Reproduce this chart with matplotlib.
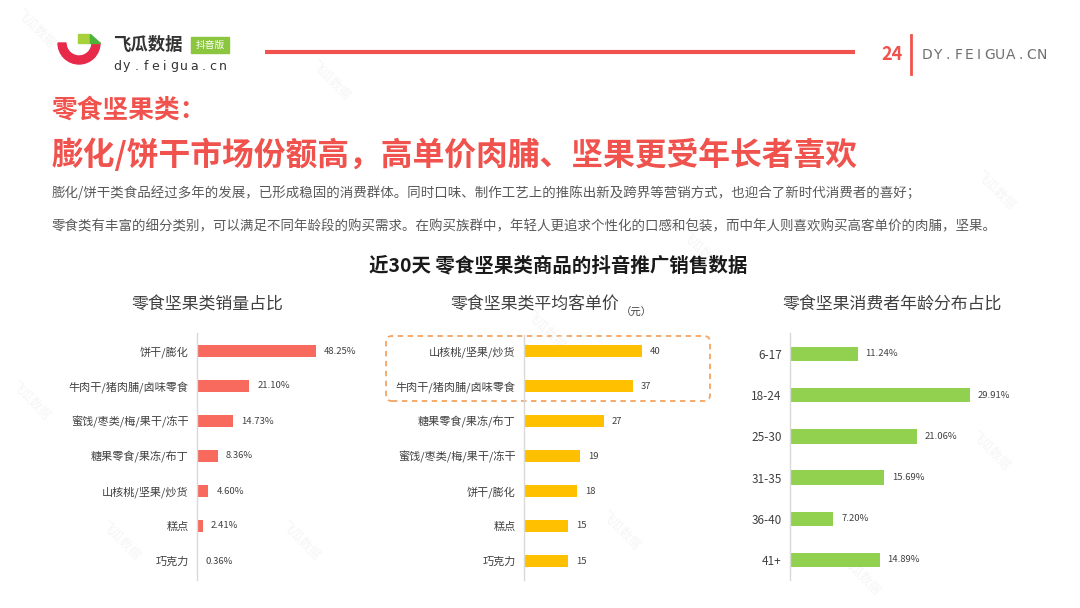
import matplotlib
matplotlib.use("Agg")
import matplotlib.pyplot as plt
from matplotlib.patches import Wedge, Rectangle, FancyBboxPatch, Polygon

plt.rcParams['font.family'] = ['Noto Sans CJK SC', 'DejaVu Sans']

# ---- data ----
sales_cats = ["饼干/膨化", "牛肉干/猪肉脯/卤味零食", "蜜饯/枣类/梅/果干/冻干",
              "糖果零食/果冻/布丁", "山核桃/坚果/炒货", "糕点", "巧克力"]
sales_share = [48.25, 21.10, 14.73, 8.36, 4.60, 2.41, 0.36]

price_cats = ["山核桃/坚果/炒货", "牛肉干/猪肉脯/卤味零食", "糖果零食/果冻/布丁",
              "蜜饯/枣类/梅/果干/冻干", "饼干/膨化", "糕点", "巧克力"]
price_vals = [40, 37, 27, 19, 18, 15, 15]

age_groups = ["6-17", "18-24", "25-30", "31-35", "36-40", "41+"]
age_share = [11.24, 29.91, 21.06, 15.69, 7.20, 14.89]

W, H = 1080, 608
fig = plt.figure(figsize=(10.8, 6.08), dpi=100)
fig.patch.set_facecolor("white")

def fx(px):
    return px / W

def fy(py):
    return 1 - py / H

RED = "#F0524D"
GRAY = "#404040"

# ---- background decorations (pixel coords, y up) ----
bg = fig.add_axes([0, 0, 1, 1], zorder=0)
bg.set_xlim(0, W)
bg.set_ylim(0, H)
bg.axis("off")

# faint watermarks
for (wx, wy) in [(35, 28), (330, 80), (120, 540), (545, 330), (700, 250), (995, 190),
                 (990, 450), (620, 530), (300, 540), (860, 575), (30, 400)]:
    bg.text(wx, H - wy, "飞瓜数据", rotation=-45, color="#F5F5F5", fontsize=9,
            ha="center", va="center")

# logo icon
cx, cy = 79, H - 43
bg.add_patch(Wedge((cx, cy), 21, 180, 360, width=8, color="#E8294A"))
bg.add_patch(Rectangle((78, H - 43), 12, 9, color="#A6D13A"))
bg.add_patch(Polygon([(90, H - 34), (90, H - 43), (100, H - 43)], color="#4FB23A"))
fig.text(fx(113), fy(45), "飞瓜数据", fontsize=12.5, fontweight="bold",
         color="#333333", va="center", ha="left")
bg.add_patch(Rectangle((191, H - 53), 38, 16, color="#8CC63F"))
fig.text(fx(210), fy(45), "抖音版", fontsize=7, color="white", va="center", ha="center")
for i, ch in enumerate("dy.feigua.cn"):
    fig.text(fx(117 + i * 9.6), fy(66), ch, fontsize=9, color="#333333",
             va="center", ha="center", family="DejaVu Sans")

# top line and page number
bg.plot([265, 855], [H - 52, H - 52], color=RED, lw=3, solid_capstyle="butt")
fig.text(fx(892), fy(55), "24", fontsize=13, fontweight="bold", color=RED,
         va="center", ha="center")
bg.plot([911, 911], [H - 35, H - 74], color=RED, lw=2)
for i, ch in enumerate("DY.FEIGUA.CN"):
    fig.text(fx(927 + i * 10.4), fy(55), ch, fontsize=10, color="#6E6E6E",
             va="center", ha="center", family="DejaVu Sans")

# headline
fig.text(fx(52), fy(110), "零食坚果类：", fontsize=18.5, fontweight="bold",
         color=RED, va="center", ha="left")
fig.text(fx(52), fy(155), "膨化/饼干市场份额高，高单价肉脯、坚果更受年长者喜欢",
         fontsize=22.9, fontweight="bold", color=RED, va="center", ha="left")
fig.text(fx(52), fy(193),
         "膨化/饼干类食品经过多年的发展，已形成稳固的消费群体。同时口味、制作工艺上的推陈出新及跨界等营销方式，也迎合了新时代消费者的喜好；",
         fontsize=9.7, color="#595959", va="center", ha="left")
fig.text(fx(52), fy(226),
         "零食类有丰富的细分类别，可以满足不同年龄段的购买需求。在购买族群中，年轻人更追求个性化的口感和包装，而中年人则喜欢购买高客单价的肉脯，坚果。",
         fontsize=9.7, color="#595959", va="center", ha="left")

fig.text(fx(558), fy(266), "近30天 零食坚果类商品的抖音推广销售数据", fontsize=14,
         fontweight="bold", color="#1A1A1A", va="center", ha="center")

# sub titles
fig.text(fx(207), fy(305), "零食坚果类销量占比", fontsize=12.2, color=GRAY,
         va="center", ha="center")
fig.text(fx(535), fy(305), "零食坚果类平均客单价", fontsize=12.2, color=GRAY,
         va="center", ha="center")
fig.text(fx(636), fy(313), "（元）", fontsize=7.5, color=GRAY, va="center", ha="center")
fig.text(fx(892), fy(305), "零食坚果消费者年龄分布占比", fontsize=12.2, color=GRAY,
         va="center", ha="center")

# dashed highlight box
bg.add_patch(FancyBboxPatch((386, H - 401), 324, 65,
                            boxstyle="round,pad=0,rounding_size=6",
                            fill=False, ec="#F4A460", lw=1.3, ls=(0, (3, 2.5))))


def bar_panel(left, top_row, step, axis_top, axis_bot, scale, cats, vals,
              color, fmt, bar_h, tick_fs):
    n = len(cats)
    width_px = 200
    ax = fig.add_axes([fx(left), fy(axis_bot), width_px / W, (axis_bot - axis_top) / H],
                      zorder=2)
    ax.patch.set_alpha(0)
    ypos = list(range(n))
    ax.barh(ypos, vals, height=bar_h, color=color)
    y_top = -(top_row - axis_top) / step
    y_bot = (n - 1) + (axis_bot - (top_row + step * (n - 1))) / step
    ax.set_ylim(y_bot, y_top)
    ax.set_xlim(0, width_px / scale)
    for s in ["top", "right", "bottom"]:
        ax.spines[s].set_visible(False)
    ax.spines["left"].set_color("#D9D9D9")
    ax.spines["left"].set_linewidth(1)
    ax.set_xticks([])
    ax.set_yticks(ypos)
    ax.set_yticklabels(cats, fontsize=tick_fs, color=GRAY)
    ax.tick_params(axis="y", length=0, pad=6)
    for y, v in zip(ypos, vals):
        ax.text(v + 8 / scale, y, fmt(v), fontsize=6.8, color=GRAY,
                va="center", ha="left")
    return ax


bar_panel(197, 351, 35, 333, 580, 2.47, sales_cats, sales_share, "#F8695E",
          lambda v: f"{v:.2f}%", 0.37, 8)
bar_panel(524, 351, 35, 335, 580, 2.95, price_cats, price_vals, "#FFC000",
          lambda v: f"{v}", 0.37, 8)
bar_panel(790, 354, 41.2, 333, 580, 6.02, age_groups, age_share, "#92D050",
          lambda v: f"{v:.2f}%", 0.35, 8.5)

fig.savefig("out.png", dpi=100)
